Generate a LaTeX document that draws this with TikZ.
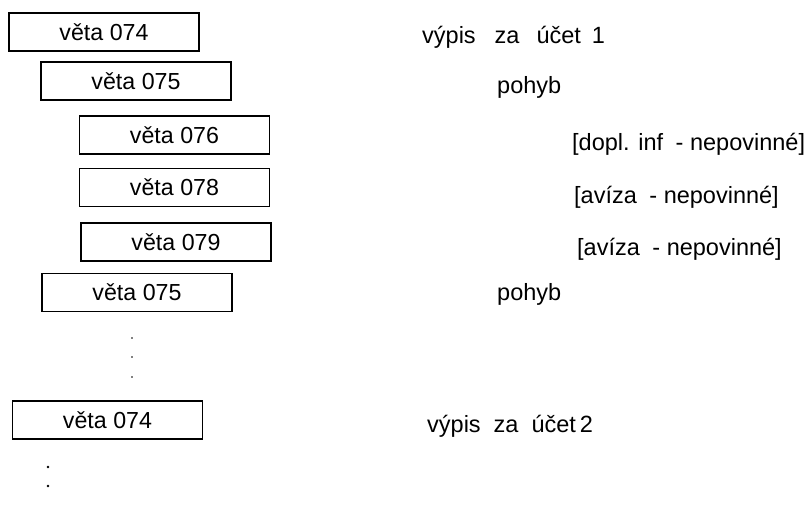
\documentclass[tikz,border=0pt]{standalone}
\usepackage{fontspec}
\setmainfont{Liberation Sans}
\begin{document}
\begin{tikzpicture}[x=1pt,y=-1pt,
  rec/.style={draw,line width=1.1pt,minimum width=190pt,minimum height=38pt,inner sep=0pt,font=\fontsize{23.2}{27}\selectfont},
  lbl/.style={anchor=base west,inner sep=0pt,font=\fontsize{23.5}{27}\selectfont},
  sdot/.style={fill,circle,inner sep=0pt,minimum size=1.8pt},
  bdot/.style={fill,circle,inner sep=0pt,minimum size=2.8pt}]
\useasboundingbox (0,0) rectangle (810,504);
\node[rec] (b1) at (104,32) {věta 074};
\node[rec] (b2) at (136,81) {věta 075};
\node[rec] (b3) at (174.5,135) {věta 076};
\node[rec] (b4) at (174.5,187.5) {věta 078};
\node[rec] (b5) at (176,242) {věta 079};
\node[rec] (b6) at (137,292.5) {věta 075};
\node[rec] (b7) at (107.5,420) {věta 074};
\node[lbl] (t1) at (422,43) {výpis\hspace{19pt}za\hspace{17pt}účet\hspace{11pt}1};
\node[lbl] (t2) at (497,93) {pohyb};
\node[lbl] (t3) at (572,150) {[dopl. inf\hspace{6pt} - nepovinné]};
\node[lbl] (t4) at (574,203) {[avíza\hspace{6pt} - nepovinné]};
\node[lbl] (t5) at (577,255) {[avíza\hspace{6pt} - nepovinné]};
\node[lbl] (t6) at (497,300) {pohyb};
\node[lbl] (t7) at (427,432) {výpis\hspace{13pt}za\hspace{13pt}účet\hspace{4pt}2};
\node[sdot] (d1) at (132,338) {};
\node[sdot] (d2) at (132,357) {};
\node[sdot] (d3) at (132,377) {};
\node[bdot] (d4) at (48,467) {};
\node[bdot] (d5) at (48,486) {};
\end{tikzpicture}
\end{document}
